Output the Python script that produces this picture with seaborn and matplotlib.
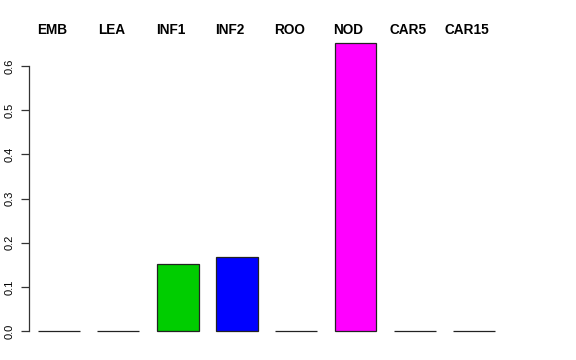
import matplotlib
matplotlib.use("Agg")
import matplotlib.pyplot as plt
import seaborn as sns
import pandas as pd

categories = ["EMB", "LEA", "INF1", "INF2", "ROO", "NOD", "CAR5", "CAR15"]
values = [0.0, 0.0, 0.151, 0.167, 0.0, 0.652, 0.0, 0.0]
colors = ["#000000", "#FF0000", "#00CD00", "#0000FF", "#00FFFF", "#FF00FF", "#FFFF00", "#BEBEBE"]
yticks = [0.0, 0.1, 0.2, 0.3, 0.4, 0.5, 0.6]

sns.set_theme(style="white")
plt.rcParams["font.family"] = ["Liberation Sans", "DejaVu Sans"]

df = pd.DataFrame({"cat": categories, "val": values})

W, H = 576, 360
fig = plt.figure(figsize=(W / 100, H / 100), dpi=100)
left_px, right_px, top_px, bottom_px = 29, 520, 18, 342
ax = fig.add_axes([left_px / W, 1 - bottom_px / H, (right_px - left_px) / W, (bottom_px - top_px) / H])

sns.barplot(data=df, x="cat", y="val", hue="cat", palette=dict(zip(categories, colors)),
            order=categories, hue_order=categories, dodge=False, legend=False,
            saturation=1, width=0.708, edgecolor="#222222", linewidth=0.9, ax=ax)

unit = 59.3
ax.set_xlim((left_px - 59) / unit, (right_px - 59) / unit)
yunit = (331 - 66) / 0.6
ax.set_ylim((331 - bottom_px) / yunit, (331 - top_px) / yunit)

for s in ["top", "right", "bottom"]:
    ax.spines[s].set_visible(False)
ax.spines["left"].set_bounds(0, 0.6)
ax.spines["left"].set_color("#333333")
ax.spines["left"].set_linewidth(0.9)

ax.set_yticks(yticks)
ax.set_yticklabels([f"{t:.1f}" for t in yticks], rotation=90, va="center", fontsize=8, color="black")
ax.tick_params(axis="y", length=5.5, width=0.9, color="#333333", pad=4.5, left=True)
ax.set_xticks([])
ax.set_xlabel("")
ax.set_ylabel("")

label_y = (331 - 30.5) / yunit
for i, c in enumerate(categories):
    ax.text(i - 7 / unit, label_y, c, ha="center", va="center",
            fontsize=9.8, fontweight="bold", color="black")

fig.savefig("out.png", dpi=100, facecolor="white")
